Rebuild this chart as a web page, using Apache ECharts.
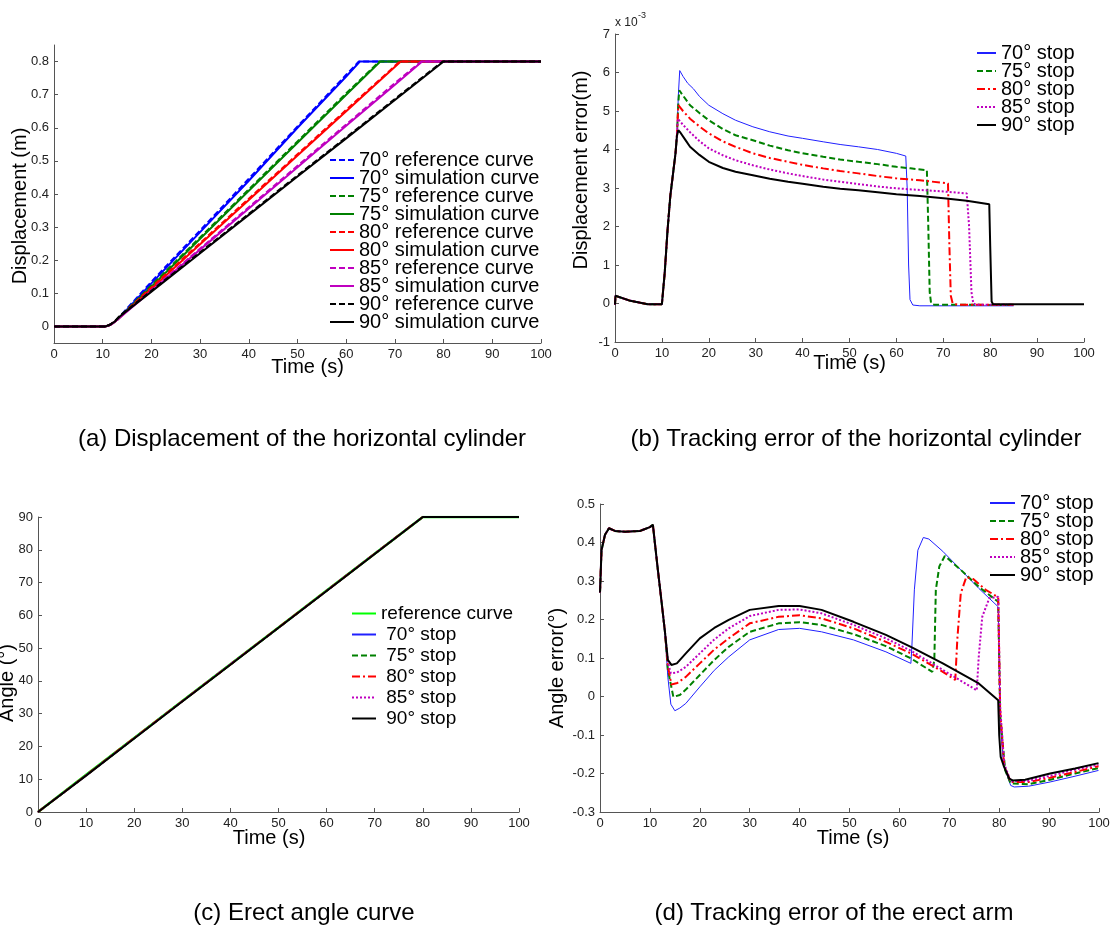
<!DOCTYPE html>
<html>
<head>
<meta charset="utf-8">
<script src="https://cdn.jsdelivr.net/npm/echarts@6/dist/echarts.min.js"></script>
<style>
  body { margin: 0; background: #fff; width: 1110px; height: 927px; position: relative; overflow: hidden;
         font-family: 'Liberation Sans', Arial, sans-serif; }
  .chart { position: absolute; }
  .cap { position: absolute; width: 600px; text-align: center; font-size: 24px; line-height: 28px; color: #000; }
</style>
</head>
<body>
<div id="pa" class="chart" style="left:0;top:0;width:555px;height:460px"></div>
<div id="pb" class="chart" style="left:530px;top:0;width:580px;height:460px"></div>
<div id="pc" class="chart" style="left:0;top:460px;width:555px;height:467px"></div>
<div id="pd" class="chart" style="left:530px;top:460px;width:580px;height:467px"></div>
<div class="cap" style="left:2px;top:424px">(a) Displacement of the horizontal cylinder</div>
<div class="cap" style="left:556px;top:424px">(b) Tracking error of the horizontal cylinder</div>
<div class="cap" style="left:4px;top:898px">(c) Erect angle curve</div>
<div class="cap" style="left:534px;top:898px">(d) Tracking error of the erect arm</div>
<script>
const FONT = "'Liberation Sans', Arial, sans-serif";

// ---- (a) displacement of the horizontal cylinder, m ----
const dispTicks = [0, 0.1, 0.2, 0.3, 0.4, 0.5, 0.6, 0.7, 0.8];
const dispRef70 = [[0,0],[10.5,0],[11.5,0.005],[12.3,0.013],[13,0.022],[20,0.135],[30,0.29],[40,0.446],[50,0.604],[60,0.76],[62.6,0.8],[100,0.8]];
const dispSim70 = [[0,0],[10.5,0],[11.5,0.004],[12.3,0.012],[13,0.02],[20,0.13],[30,0.285],[40,0.44],[50,0.6],[60,0.755],[62.8,0.8],[100,0.8]];
const dispRef75 = [[0,0],[10.5,0],[11.5,0.005],[12.3,0.013],[13,0.022],[20,0.124],[30,0.269],[40,0.414],[50,0.559],[60,0.704],[66.8,0.8],[100,0.8]];
const dispSim75 = [[0,0],[10.5,0],[11.5,0.004],[12.3,0.012],[13,0.02],[20,0.12],[30,0.265],[40,0.41],[50,0.555],[60,0.7],[67,0.8],[100,0.8]];
const dispRef80 = [[0,0],[10.5,0],[11.5,0.005],[12.3,0.013],[13,0.022],[20,0.118],[30,0.252],[40,0.386],[50,0.52],[60,0.654],[71,0.8],[100,0.8]];
const dispSim80 = [[0,0],[10.5,0],[11.5,0.004],[12.3,0.012],[13,0.02],[20,0.114],[30,0.248],[40,0.382],[50,0.516],[60,0.65],[71.2,0.8],[100,0.8]];
const dispRef85 = [[0,0],[10.5,0],[11.5,0.005],[12.3,0.013],[13,0.022],[20,0.11],[30,0.235],[40,0.36],[50,0.485],[60,0.61],[70,0.735],[75.4,0.8],[100,0.8]];
const dispSim85 = [[0,0],[10.5,0],[11.5,0.004],[12.3,0.012],[13,0.02],[20,0.107],[30,0.232],[40,0.356],[50,0.481],[60,0.606],[70,0.73],[75.6,0.8],[100,0.8]];
const dispRef90 = [[0,0],[10.5,0],[11.5,0.005],[12.5,0.016],[13.5,0.032],[20,0.108],[30,0.224],[40,0.34],[50,0.456],[60,0.571],[70,0.687],[79.8,0.8],[100,0.8]];
const dispSim90 = [[0,0],[10.5,0],[11.5,0.005],[12.5,0.015],[13.5,0.03],[20,0.105],[30,0.221],[40,0.337],[50,0.453],[60,0.568],[70,0.684],[80,0.8],[100,0.8]];

// ---- (b) displacement tracking error, x 10^-3 m ----
const dispErr70 = [[0,-0.03],[0.1,0.2],[0.4,0.15],[3,0.08],[7,-0.02],[10,-0.02],[10.6,0.8],[11.2,1.9],[11.8,2.8],[12.4,3.4],[12.9,3.9],[13.2,4.35],[13.5,5.4],[13.8,6.05],[14.5,5.9],[15.5,5.72],[16.7,5.58],[18,5.38],[20,5.15],[23,4.93],[25.7,4.76],[29.4,4.59],[33,4.46],[36.9,4.35],[40,4.29],[44.4,4.2],[48,4.13],[51.9,4.07],[56,4.0],[60,3.9],[62,3.83],[62.3,3.0],[62.6,1.0],[62.9,0.1],[63.5,-0.04],[65,-0.06],[85,-0.06]];
const dispErr75 = [[0,-0.03],[0.1,0.2],[0.4,0.15],[3,0.08],[7,-0.02],[10,-0.02],[10.6,0.8],[11.2,1.9],[11.8,2.8],[12.4,3.4],[12.9,3.9],[13.2,4.35],[13.5,5.2],[13.7,5.54],[14.5,5.4],[16,5.15],[18,4.95],[20,4.76],[23,4.53],[25.7,4.37],[29.4,4.24],[33,4.1],[36.9,3.98],[40,3.9],[44.4,3.81],[48,3.74],[51.9,3.68],[56,3.62],[60,3.55],[63,3.51],[66.5,3.46],[66.8,2.0],[67.1,0.3],[67.4,0.0],[68,-0.03],[85,-0.04]];
const dispErr80 = [[0,-0.03],[0.1,0.2],[0.4,0.15],[3,0.08],[7,-0.02],[10,-0.02],[10.6,0.8],[11.2,1.9],[11.8,2.8],[12.4,3.4],[12.9,3.9],[13.2,4.35],[13.5,5.15],[14.5,5.0],[16,4.8],[18,4.6],[20,4.42],[23,4.21],[25.7,4.07],[29.4,3.9],[33,3.78],[36.9,3.68],[40,3.6],[44.4,3.51],[48,3.44],[51.9,3.38],[56,3.31],[60,3.25],[65,3.2],[71,3.12],[71.3,1.5],[71.6,0.2],[72,0.0],[73,-0.03],[85,-0.03]];
const dispErr85 = [[0,-0.03],[0.1,0.2],[0.4,0.15],[3,0.08],[7,-0.02],[10,-0.02],[10.6,0.8],[11.2,1.9],[11.8,2.8],[12.4,3.4],[12.9,3.9],[13.2,4.35],[13.4,4.8],[14.5,4.64],[16,4.45],[18,4.22],[20,4.03],[23,3.85],[25.7,3.72],[29.4,3.59],[33,3.48],[36.9,3.38],[40,3.31],[44.4,3.22],[48,3.16],[51.9,3.1],[56,3.04],[60,2.99],[65,2.95],[70,2.91],[75,2.86],[75.5,2.0],[76,0.3],[76.4,0.0],[77,-0.03],[85,-0.03]];
const dispErr90 = [[0,-0.03],[0.1,0.2],[0.4,0.15],[3,0.08],[7,-0.02],[10,-0.02],[10.6,0.8],[11.2,1.9],[11.8,2.8],[12.4,3.4],[12.9,3.9],[13.2,4.35],[13.5,4.5],[14,4.43],[15,4.25],[16,4.07],[18,3.86],[20,3.68],[23,3.52],[25.7,3.42],[29.4,3.33],[33,3.24],[36.9,3.16],[40,3.11],[44.4,3.03],[48,2.98],[51.9,2.94],[56,2.89],[60,2.84],[65,2.79],[70.6,2.73],[75,2.67],[79.8,2.58],[80,1.5],[80.3,0.05],[80.6,-0.02],[100,-0.02]];

// ---- (c) erect angle, deg ----
const angleRef  = [[0,0],[10,11.4],[20,22.6],[30,33.9],[40,45.1],[50,56.3],[60,67.6],[70,78.8],[80,90],[100,90]];
const angleSt70 = [[0,0],[10,11.2],[20,22.5],[30,33.8],[40,45],[50,56.2],[60,67.5],[70,78.7],[80,90],[100,90]];
const angleSt75 = [[0,0],[10,11.2],[20,22.5],[30,33.8],[40,45],[50,56.2],[60,67.5],[70,78.8],[80,90],[100,90]];
const angleSt80 = [[0,0],[10,11.2],[20,22.6],[30,33.8],[40,45],[50,56.3],[60,67.5],[70,78.8],[80,90],[100,90]];
const angleSt85 = [[0,0],[10,11.2],[20,22.5],[30,33.8],[40,45.1],[50,56.2],[60,67.5],[70,78.8],[80,90],[100,90]];
const angleSt90 = [[0,0],[10,11.1],[20,22.4],[30,33.7],[40,44.9],[50,56.2],[60,67.4],[70,78.7],[80,90],[100,90]];

// ---- (d) angle tracking error, deg ----
const angErr70 = [[0,0.27],[0.3,0.38],[1,0.42],[1.8,0.437],[3,0.43],[5,0.428],[8,0.43],[10,0.44],[10.6,0.446],[11.5,0.34],[12.3,0.25],[13,0.17],[13.6,0.05],[14.2,-0.02],[15,-0.037],[16,-0.03],[17.2,-0.018],[20,0.025],[22.9,0.068],[25.8,0.103],[30,0.147],[35.8,0.174],[40,0.177],[44.4,0.168],[50.8,0.147],[57.3,0.116],[62.3,0.086],[62.5,0.13],[63,0.277],[63.7,0.38],[64.8,0.413],[65.9,0.409],[68.7,0.377],[72.3,0.329],[75.9,0.281],[79.8,0.233],[80.2,-0.07],[80.9,-0.18],[82.3,-0.231],[83,-0.235],[85.9,-0.233],[90.2,-0.222],[95.2,-0.207],[99.9,-0.192]];
const angErr75 = [[0,0.27],[0.3,0.38],[1,0.42],[1.8,0.437],[3,0.43],[5,0.428],[8,0.43],[10,0.44],[10.6,0.446],[11.5,0.34],[12.3,0.25],[13,0.17],[13.6,0.07],[14.7,-0.001],[16,0.004],[17.2,0.018],[20,0.056],[22.9,0.095],[25.8,0.129],[30,0.168],[35.8,0.19],[40,0.193],[44.4,0.186],[50.8,0.162],[57.3,0.131],[62.3,0.099],[66.6,0.064],[67,0.095],[67.3,0.277],[68,0.338],[69.1,0.365],[72.3,0.329],[75.9,0.285],[79.8,0.246],[80.2,-0.05],[81.2,-0.192],[82.3,-0.226],[85.9,-0.228],[90.2,-0.216],[95.2,-0.2],[99.9,-0.186]];
const angErr80 = [[0,0.27],[0.3,0.38],[1,0.42],[1.8,0.437],[3,0.43],[5,0.428],[8,0.43],[10,0.44],[10.6,0.446],[11.5,0.34],[12.3,0.25],[13,0.17],[13.6,0.08],[14.3,0.031],[15.5,0.035],[17.2,0.051],[20,0.086],[22.9,0.122],[25.8,0.151],[30,0.19],[35.8,0.207],[40,0.211],[44.4,0.203],[50.8,0.177],[57.3,0.142],[62.3,0.112],[68.7,0.064],[71.2,0.043],[71.6,0.147],[72.3,0.268],[73.4,0.31],[74.8,0.305],[77.3,0.277],[79.8,0.258],[80.2,-0.04],[81,-0.18],[82.3,-0.222],[85.9,-0.222],[90.2,-0.211],[95.2,-0.196],[99.9,-0.181]];
const angErr85 = [[0,0.27],[0.3,0.38],[1,0.42],[1.8,0.437],[3,0.43],[5,0.428],[8,0.43],[10,0.44],[10.6,0.446],[11.5,0.34],[12.3,0.25],[13,0.17],[13.6,0.09],[14.2,0.06],[15.4,0.062],[17.2,0.077],[20,0.112],[22.9,0.148],[25.8,0.177],[30,0.209],[35.8,0.225],[40,0.226],[44.4,0.216],[50.8,0.186],[57.3,0.151],[62.3,0.119],[68.7,0.069],[75.5,0.016],[75.9,0.103],[76.6,0.207],[78,0.255],[79.8,0.259],[80.2,-0.03],[81,-0.175],[82.3,-0.22],[85.9,-0.219],[90.2,-0.206],[95.2,-0.19],[99.9,-0.177]];
const angErr90 = [[0,0.27],[0.3,0.38],[1,0.42],[1.8,0.437],[3,0.43],[5,0.428],[8,0.43],[10,0.44],[10.6,0.446],[11.5,0.34],[12.3,0.25],[13,0.17],[13.6,0.095],[14.3,0.082],[15.4,0.086],[17.2,0.112],[20,0.151],[22.9,0.178],[25.8,0.199],[30,0.225],[35.8,0.235],[40,0.235],[44.4,0.225],[50.8,0.194],[57.3,0.16],[62.3,0.129],[68.7,0.086],[75.9,0.034],[79.8,-0.01],[80,-0.1],[80.3,-0.157],[80.9,-0.18],[82,-0.213],[82.7,-0.218],[85.2,-0.216],[90.2,-0.2],[95.2,-0.187],[99.9,-0.173]];

const stopNames = ['70° stop', '75° stop', '80° stop', '85° stop', '90° stop'];

// matlab-like line styles
const DASH = [6, 3];
const DASHDOT = [8, 3, 2, 3];
const DOT = [2, 2];

function line(name, data, color, width, type) {
  return {
    name: name, type: 'line', data: data,
    showSymbol: false, symbol: 'none', animation: false,
    lineStyle: { color: color, width: width, type: type || 'solid' },
    itemStyle: { color: color },
    emphasis: { disabled: true }
  };
}

function xAxis(nameGap, pad) {
  return {
    type: 'value', min: 0, max: 100, interval: 10,
    name: 'Time (s)', nameLocation: 'middle', nameGap: nameGap, nameMoveOverlap: false,
    nameTextStyle: { fontSize: 20, color: '#000', fontFamily: FONT, padding: pad },
    axisLine: { onZero: false, lineStyle: { color: '#555' } },
    axisTick: { inside: true, length: 4, lineStyle: { color: '#555' } },
    axisLabel: { fontSize: 13, color: '#222', margin: 5, fontFamily: FONT },
    splitLine: { show: false }
  };
}

function yAxis(name, min, max, interval, nameGap, pad) {
  return {
    type: 'value', min: min, max: max, interval: interval,
    name: name, nameLocation: 'middle', nameGap: nameGap, nameMoveOverlap: false,
    nameTextStyle: { fontSize: 20, color: '#000', fontFamily: FONT, padding: pad },
    axisLine: { show: true, onZero: false, lineStyle: { color: '#555' } },
    axisTick: { show: true, inside: true, length: 4, lineStyle: { color: '#555' } },
    axisLabel: { fontSize: 13, color: '#222', margin: 5, fontFamily: FONT },
    splitLine: { show: false }
  };
}

function legend(names, left, top, itemWidth, fontSize, gap) {
  return {
    data: names, orient: 'vertical', left: left, top: top, padding: 0,
    itemWidth: itemWidth, itemHeight: 10, itemGap: gap, selectedMode: false,
    itemStyle: { opacity: 0 },
    textStyle: { fontSize: fontSize, color: '#000', fontFamily: FONT }
  };
}

function grid(left, top, width, height) {
  return { left: left, top: top, width: width, height: height, containLabel: false, outerBoundsMode: 'none' };
}

// (a)
const chartA = echarts.init(document.getElementById('pa'));
const namesA = ['70° reference curve', '70° simulation curve', '75° reference curve', '75° simulation curve',
  '80° reference curve', '80° simulation curve', '85° reference curve', '85° simulation curve',
  '90° reference curve', '90° simulation curve'];
const yA = yAxis('Displacement (m)', -0.05, 0.85, 0.1, 24, [0, 24, 0, 0]);
yA.axisLabel.customValues = dispTicks;
yA.axisTick.customValues = dispTicks;
chartA.setOption({
  grid: grid(54, 45, 487, 298),
  xAxis: xAxis(14, [0, 0, 0, 20]),
  yAxis: yA,
  legend: legend(namesA, 329, 150, 24, 20, -2),
  series: [
    line(namesA[0], dispRef70, '#0000ff', 2, DASH),
    line(namesA[1], dispSim70, '#0000ff', 2),
    line(namesA[2], dispRef75, '#008000', 2, DASH),
    line(namesA[3], dispSim75, '#008000', 2),
    line(namesA[4], dispRef80, '#ff0000', 2, DASH),
    line(namesA[5], dispSim80, '#ff0000', 2),
    line(namesA[6], dispRef85, '#bf00bf', 2, DASH),
    line(namesA[7], dispSim85, '#bf00bf', 2),
    line(namesA[8], dispRef90, '#000000', 2, DASH),
    line(namesA[9], dispSim90, '#000000', 2)
  ]
});

// (b)
const chartB = echarts.init(document.getElementById('pb'));
chartB.setOption({
  grid: grid(85, 34, 469, 308),
  xAxis: xAxis(11, [0, 0, 0, 0]),
  yAxis: yAxis('Displacement error(m)', -1, 7, 1, 24, [0, 0, 0, 36]),
  legend: legend(stopNames, 446, 43, 19, 20, -2),
  graphic: [
    { type: 'text', left: 85, top: 17, style: { text: 'x 10', fontSize: 12, fill: '#222', fontFamily: FONT } },
    { type: 'text', left: 108, top: 11, style: { text: '-3', fontSize: 9, fill: '#222', fontFamily: FONT } }
  ],
  series: [
    line(stopNames[0], dispErr70, '#2020ff', 1),
    line(stopNames[1], dispErr75, '#008000', 2, DASH),
    line(stopNames[2], dispErr80, '#ff0000', 2, DASHDOT),
    line(stopNames[3], dispErr85, '#bf00bf', 2, DOT),
    line(stopNames[4], dispErr90, '#000000', 2)
  ]
});

// (c)
const chartC = echarts.init(document.getElementById('pc'));
const namesC = ['reference curve', ' 70° stop', ' 75° stop', ' 80° stop', ' 85° stop', ' 90° stop'];
chartC.setOption({
  grid: grid(38, 57, 481, 295),
  xAxis: xAxis(16, [0, 19, 0, 0]),
  yAxis: yAxis('Angle (°)', 0, 90, 10, 21, [0, 37, 0, 0]),
  legend: legend(namesC, 351, 144, 24, 19, 2),
  series: [
    line(namesC[0], angleRef, '#00ff00', 2.5),
    line(namesC[1], angleSt70, '#2020ff', 1),
    line(namesC[2], angleSt75, '#008000', 2, DASH),
    line(namesC[3], angleSt80, '#ff0000', 2, DASHDOT),
    line(namesC[4], angleSt85, '#bf00bf', 2, DOT),
    line(namesC[5], angleSt90, '#000000', 2)
  ]
});

// (d)
const chartD = echarts.init(document.getElementById('pd'));
chartD.setOption({
  grid: grid(70, 44, 499, 308),
  xAxis: xAxis(16, [0, 0, 0, 7]),
  yAxis: yAxis('Angle error(°)', -0.3, 0.5, 0.1, 33, [0, 20, 0, 0]),
  legend: legend(stopNames, 459, 33, 25, 20, -2),
  series: [
    line(stopNames[0], angErr70, '#2020ff', 1),
    line(stopNames[1], angErr75, '#008000', 2, DASH),
    line(stopNames[2], angErr80, '#ff0000', 2, DASHDOT),
    line(stopNames[3], angErr85, '#bf00bf', 2, DOT),
    line(stopNames[4], angErr90, '#000000', 2)
  ]
});
</script>
</body>
</html>
